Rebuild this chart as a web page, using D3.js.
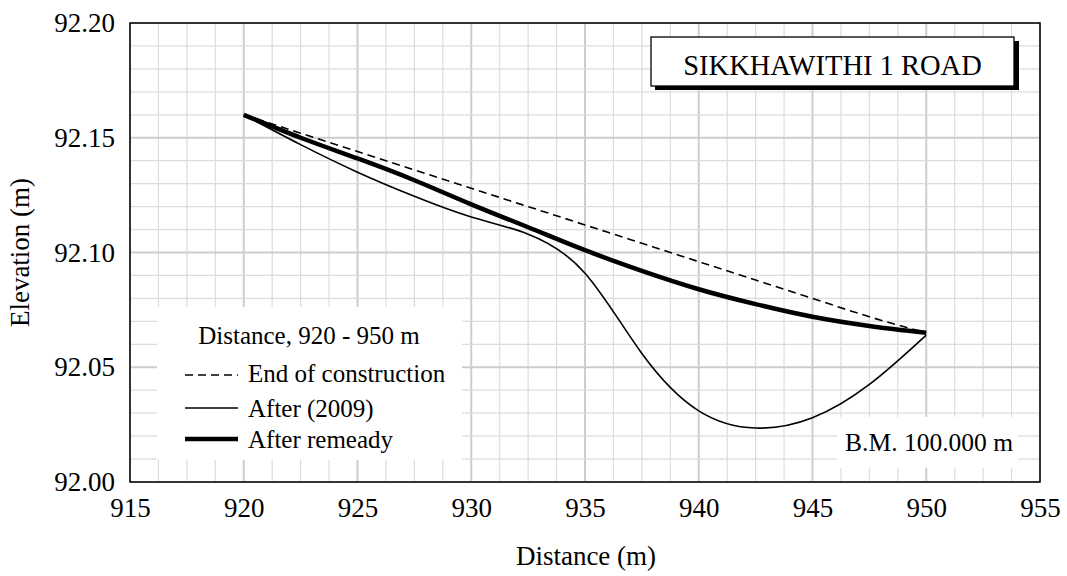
<!DOCTYPE html>
<html>
<head>
<meta charset="utf-8">
<script src="https://cdn.jsdelivr.net/npm/d3@7"></script>
<style>
  html, body { margin: 0; padding: 0; background: #fff; }
  svg { display: block; font-family: "Liberation Serif", "Times New Roman", serif; }
</style>
</head>
<body>
<svg id="chart" width="1067" height="576"></svg>
<script>
// ---- data ----
const distance = [920, 922.5, 925, 927.5, 930, 932.5, 935, 937.5, 940, 942.5, 945, 947.5, 950];
const endOfConstruction = [92.160, 92.152, 92.144, 92.136, 92.128, 92.120, 92.112, 92.104, 92.096, 92.088, 92.080, 92.072, 92.065];
const after2009 = [92.160, 92.147, 92.135, 92.1245, 92.1155, 92.108, 92.091, 92.056, 92.031, 92.0235, 92.028, 92.0425, 92.064];
const afterRemedy = [92.160, 92.150, 92.141, 92.1315, 92.121, 92.111, 92.101, 92.092, 92.084, 92.0775, 92.072, 92.068, 92.065];
const xTicks = [915, 920, 925, 930, 935, 940, 945, 950, 955];
const yTicks = [92.00, 92.05, 92.10, 92.15, 92.20];
const seriesNames = ["End of construction", "After (2009)", "After remeady"];
const legendTitle = "Distance, 920 - 950 m";
const chartTitle = "SIKKHAWITHI 1 ROAD";
const benchmarkNote = "B.M. 100.000 m";
const xTitle = "Distance (m)";
const yTitle = "Elevation (m)";

// ---- layout ----
const svg = d3.select("#chart");
const L = 130, T = 23, W = 910, H = 459;
const x = d3.scaleLinear().domain([915, 955]).range([L, L + W]);
const y = d3.scaleLinear().domain([92.00, 92.20]).range([T + H, T]);

// grid
const grid = svg.append("g");
const minorX = d3.range(0, 33).map(i => 915 + i * 1.25);
const minorY = d3.range(0, 21).map(i => +(92.00 + i * 0.01).toFixed(2));
grid.selectAll("line.vx").data(minorX).join("line")
  .attr("x1", d => x(d)).attr("x2", d => x(d)).attr("y1", T).attr("y2", T + H)
  .attr("stroke", (d, i) => i % 4 === 0 ? "#cdcdcd" : "#dcdcdc")
  .attr("stroke-width", (d, i) => i % 4 === 0 ? 2 : 1.2);
grid.selectAll("line.hy").data(minorY).join("line")
  .attr("y1", d => y(d)).attr("y2", d => y(d)).attr("x1", L).attr("x2", L + W)
  .attr("stroke", (d, i) => i % 5 === 0 ? "#cdcdcd" : "#dcdcdc")
  .attr("stroke-width", (d, i) => i % 5 === 0 ? 2 : 1.2);

// series
const line = d3.line().x((d, i) => x(distance[i])).y(d => y(d)).curve(d3.curveNatural);
svg.append("path").datum(endOfConstruction).attr("d", line)
  .attr("fill", "none").attr("stroke", "#000").attr("stroke-width", 1.6).attr("stroke-dasharray", "8,5");
svg.append("path").datum(after2009).attr("d", line)
  .attr("fill", "none").attr("stroke", "#000").attr("stroke-width", 1.6);
svg.append("path").datum(afterRemedy).attr("d", line)
  .attr("fill", "none").attr("stroke", "#000").attr("stroke-width", 4.5);

// legend box
const lg = svg.append("g");
lg.append("rect").attr("x", 157).attr("y", 307).attr("width", 305).attr("height", 153).attr("fill", "#fff");
lg.append("text").attr("x", 309).attr("y", 344).attr("text-anchor", "middle")
  .attr("font-size", 25).text(legendTitle);
const legStyles = [
  { w: 1.6, dash: "8,5", ly: 375, ty: 382 },
  { w: 1.6, dash: null, ly: 408, ty: 417 },
  { w: 4.5, dash: null, ly: 439, ty: 448 }
];
seriesNames.forEach((name, i) => {
  const s = legStyles[i];
  lg.append("line").attr("x1", 185).attr("x2", 238).attr("y1", s.ly).attr("y2", s.ly)
    .attr("stroke", "#000").attr("stroke-width", s.w).attr("stroke-dasharray", s.dash);
  lg.append("text").attr("x", 248).attr("y", s.ty).attr("font-size", 25).text(name);
});

// benchmark note
svg.append("rect").attr("x", 837).attr("y", 417).attr("width", 181).attr("height", 51).attr("fill", "#fff");
svg.append("text").attr("x", 1013).attr("y", 451).attr("text-anchor", "end")
  .attr("font-size", 25.5).text(benchmarkNote);

// title box with shadow
svg.append("rect").attr("x", 655).attr("y", 41).attr("width", 364).attr("height", 49).attr("fill", "#000");
svg.append("rect").attr("x", 651).attr("y", 37).attr("width", 363).attr("height", 49)
  .attr("fill", "#fff").attr("stroke", "#000").attr("stroke-width", 1.3);
svg.append("text").attr("x", 832.5).attr("y", 75).attr("text-anchor", "middle")
  .attr("font-size", 28.5).text(chartTitle);

// frame
svg.append("rect").attr("x", L).attr("y", T).attr("width", W).attr("height", H)
  .attr("fill", "none").attr("stroke", "#000").attr("stroke-width", 1.5);

// axes
const xAxis = svg.append("g").attr("transform", `translate(0,${T + H})`)
  .call(d3.axisBottom(x).tickValues(xTicks).tickSize(0).tickPadding(16).tickFormat(d3.format("d")));
xAxis.select(".domain").remove();
xAxis.selectAll("text").attr("font-size", 27).attr("font-family", "Liberation Serif").attr("fill", "#000");

const yAxis = svg.append("g").attr("transform", `translate(${L},0)`)
  .call(d3.axisLeft(y).tickValues(yTicks).tickSize(0).tickPadding(15).tickFormat(d3.format(".2f")));
yAxis.select(".domain").remove();
yAxis.selectAll("text").attr("font-size", 27).attr("font-family", "Liberation Serif").attr("fill", "#000");

// axis titles
svg.append("text").attr("x", 586).attr("y", 565).attr("text-anchor", "middle")
  .attr("font-size", 27).text(xTitle);
svg.append("text").attr("transform", `translate(29,${T + H / 2}) rotate(-90)`)
  .attr("text-anchor", "middle").attr("font-size", 27).text(yTitle);
</script>
</body>
</html>
